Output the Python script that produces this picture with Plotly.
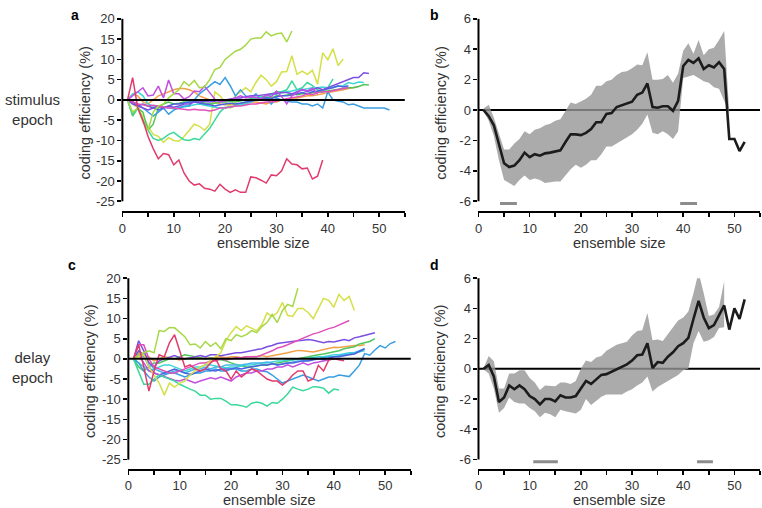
import plotly.graph_objects as go

W, H = 762, 508

# ---------------- tick labels ----------------
X_TICKS = [0, 5, 10, 15, 20, 25, 30, 35, 40, 45, 50, 55]
X_TICKTEXT = ["0", "", "10", "", "20", "", "30", "", "40", "", "50", ""]
Y_TICKS_AC = [-25, -20, -15, -10, -5, 0, 5, 10, 15, 20]
Y_TICKTEXT_AC = ["-25", "-20", "-15", "-10", "-5", "0", "5", "10", "15", "20"]
Y_TICKS_BD = [-6, -4, -2, 0, 2, 4, 6]
Y_TICKTEXT_BD = ["-6", "-4", "-2", "0", "2", "4", "6"]

# ---------------- panel a : stimulus epoch, individual sessions ----------------
a_crimson = [0, 5.5, -2, -5, -9, -12, -14.5, -13.2, -13.5, -16, -14.8, -18, -20, -21, -20.7,
             -21.8, -22, -22.5, -20.8, -22, -22.8, -22.2, -22.8, -22.8, -19, -19.2, -19.8,
             -20.5, -18.5, -18.7, -17.5, -14.5, -15.8, -16, -17, -16.8, -19.5, -18.8, -14.8]
a_orange = [0, 1.5, 1, -0.5, -1, 0, 1, 1.5, 2, 2.5, 2.8, 2.8, 2.5, 2, 1, 0.5, 0, -0.5, -1, -1.2,
            -1.2, -1, -1, -0.8, -0.5, -0.5, -0.8, -1, -0.5, -0.5, 0, 0.3, 0.5, 0.5, 0.8, 1, 1,
            1.2, 1.5, 1.8, 2, 2.3, 2.5, 2.8, 3.1, 3.3]
a_yellow = [0, -1, -2, -4, -6.5, -8.5, -9, -10.5, -9.3, -10, -10.2, -9, -7.5, -6, -6.5, -7.5, -6,
            2, 1, -0.5, -2, 1, 2, 3, 2, 4.3, 6.1, 5, 3.4, 4.5, 6.9, 7, 10.9, 6.3, 7.1, 6.3, 7.3,
            3.9, 11.6, 9.9, 12.6, 8.5, 10.1]
a_lime = [0, -3, -2, -5.5, -7.5, -3, -1.5, -1, 0.5, 1.5, 2.5, 4.5, 3.5, 4.8, 3, 3.2, 5, 7.5, 8,
          10, 11, 12, 12.5, 13.5, 15, 15.3, 15.3, 16.8, 15.8, 16.3, 16.5, 14.3, 17]
a_green = [0, -4, -2, -3, -7.5, -6, -2, -1, -0.5, -1, -0.8, -0.5, -0.5, -0.3, -0.5, -0.8, -1,
           -0.8, -0.5, -0.5, -0.3, -0.5, -0.2, 0, 0.3, 0.5, 0.5, 0.8, 0.5, 1, 1, 1.2, 1.5, 1.3,
           1.5, 1.5, 1.8, 2, 2, 2.2, 2.3, 2.5, 2.8, 3, 3, 3.3, 3.8, 3.7]
a_teal = [0, -3.5, -2, -5, -7.5, -9.5, -10, -9.5, -8.5, -8, -9, -9.8, -10, -9.5, -9.8, -8.5, -7,
          -5, -3, -1.8, -1.8, -1.5, -1, -0.5, 0, 0.5, 0.8, 1, 1.5, 2, 2, 2.5, 4.7, 2.5, 3, 4.3,
          3.5, 2.5, 2, 3, 5.2]
a_cyan = [0, 1.5, 2, 1, -1, -1.5, -1.5, -1.8, -2, -2.2, -2, -1.8, -1.5, -1.2, -1, -1.3, -1.5,
          -1.8, -2, -2, -1.8, -1.5, -1.2, -1, -0.5, 0, 0.5, 1, 1.2, 1.5, 1.8, 2, 2.2, 2.5, 2.5,
          2.8, 3, 3, 3.2, 3, 3.2, 3.3, 3.5, 4.3, 4, 4.4, 4.3]
a_blue = [0, -0.5, -1, -2, -3, -4, -3, -2, -3.5, -2.5, -2, -1.5, -1.5, 0, 1.5, 2.5, 3.5, 4.5,
          3.8, 5.5, 3.5, 1, 2.5, 1, 0.5, 1.5, 0, 0.5, -1, 0.5, 0, -0.3, -0.5, -0.5, -1, -1, -1.5,
          -1, -2, 2, 0, -0.3, -0.5, -1.2, -1, -1.5, -2, -2, -2, -2, -2, -2.5]
a_indigo = [0, -0.5, -1.5, -1, -1.5, -2, -2.5, -2, -1.5, -1, -1, -0.8, -0.5, -0.5, -0.8, -1,
            -1.2, -1.5, -1.2, -1, -0.8, -1, -0.8, -0.5, -0.3, 0, 0.2, 0.5, 0.3, 0.8, 1, 1, 1.2,
            1.5, 1.8, 1.5, 2, 2.2, 2.5, 2.8, 3, 3.5, 3.2, 3.5]
a_purple = [0, -1, -1.5, -2, -2.5, -2, -1.5, -2, -1.5, -1.8, -1.5, -1, -1, -0.5, -0.5, -0.3,
            -0.5, -0.3, 0, 0, 0.3, 0.5, 0.5, 0.8, 1, 1, 1.2, 1.3, 1.5, 1.5, 1.8, 1.8, 1.5, 2,
            2.5, 2, 2.5, 3, 2.5, 3, 3.5, 4, 4.5, 5.1, 5.5, 5.5, 6.7, 6.5]
a_magenta = [0, 1, 2.2, 3, 1, 1.2, 3.4, 0.5, 4.9, 1.5, 1.5, 0.2, 0.8, 2.2, 2, 3.4, 1.8, 0.2,
             -0.5, -0.2, 0, 0.5, 1, 0.5, 0.8, 0.6, 0.3, 1.2, 0.8, 2.2, 0.8, -1, 1, 1.8, 2.6,
             2.2, 2.9, 1.4]
a_pink = [0, -0.5, -1, -1.2, -1.5, -1.3, -1.5, -1.8, -2, -2, -2.2, -2.3, -2.5, -2.3, -2.5, -2.5,
          -2.7, -2.5, -2, -2, -1.8, -1.5, -1.5, -1.2, -1, -1, -0.8, -0.5, -0.5, -0.3, 0, 0.3,
          0.5, 0.8, 1, 1.5, 1.3, 1.8, 2, 2, 2.3, 2.5, 2.8, 3]

# ---------------- panel c : delay epoch, individual sessions ----------------
c_crimson = [0, 3.5, -2, -8, -3, 1, 0.5, 4, 6, 2, -2, -1.5, -2.5, -3, -2.5, -1, 0, -2.5, -3,
             -5, -3, -4.5, -3.5, -2.5, -3, -4, -5, -5.5, -5.5, -6.5, -5.5, -4, -3, -3, -5.5,
             -5, -1.6, -3, -0.3, 0, -0.2, -0.5]
c_orange = [0, 1.5, 1, 0.5, -0.5, 0, 0.5, 0.3, 0, -0.3, 0, 0.3, 0.5, 0.3, 0, 0.2, 0.3, 0.5,
            0.3, 0.5, 0.5, 0.3, 0.5, 0.5, 0.6, 0.8, 0.5, 0.8, 1, 1.2, 1.5, 1.8, 2.1, 2, 1.8,
            1.7, 2, 2.3, 2.5, 2.9, 2.8, 3, 3.2, 3.3, 3.3, 3.5]
c_yellow = [0, 0.5, 1, -2, -4, -6, -9, -6, -7, -6, -5.5, -4, -3, -2, -1.5, -0.5, 0.5, 1.5, 4.5,
            6.5, 8, 7, 8.2, 7.5, 7, 8.5, 11.4, 10.5, 11.5, 14, 10.8, 10.5, 12.5, 12.5, 11.5, 10,
            12.5, 15, 14.5, 12.8, 16, 14.5, 15.5, 12]
c_lime = [0, 1, 1.5, 2, 1.5, 7, 6.8, 7.8, 7.7, 6.5, 5.5, 3.5, 3.7, 2.7, 4.3, 3.1, 4, 2.5, 5,
          4.5, 6, 5.5, 6, 7, 6.5, 8, 9, 11, 9, 12, 13.5, 13, 17.5]
c_green = [0, -2, -3, -2, -1, -1, -0.5, 0, 0, 0.5, 1, 0.8, 0.5, 0.3, 0, 0.2, 0, -0.3, -0.5, -1,
           -1.5, -1.8, -2, -2, -1.8, -1.5, -1.5, -1.2, -1, -0.8, -0.5, -0.3, 0, 0.3, 0.5, 0.8,
           1, 1.2, 1.5, 1.8, 2, 2.5, 2.8, 3, 3.7, 4, 4.3, 5]
c_teal = [0, -3, -6.3, -6.3, -5, -4, -4.5, -5, -5.5, -6.3, -7, -7.5, -8, -9, -9, -10, -9.8,
          -9.8, -10.5, -11.4, -11.4, -11.6, -12, -11, -10.7, -11, -11.7, -10.8, -11, -10, -8.7,
          -7, -7.5, -7.9, -7.5, -6.9, -7, -7.3, -8.5, -7.5, -7.7]
c_cyan = [0, -1, -2, -3, -2.5, -2, -1.5, -1.5, -2, -2.5, -3, -2.5, -2, -2, -1.5, -1.5, -1.8, -2,
          -2.2, -2, -2, -1.8, -1.5, -1.5, -1.2, -1, -1, -0.8, -0.5, -0.5, -0.3, -0.3, 0, 0, 0.2,
          0.3, 0.5, 0.5, 0.8, 1, 1, 1.2, 1.5, 1.5, 1.8, 2]
c_lightblue = [0, 1, 0.5, -1, -2.5, -3, -3.5, -3.5, -3, -3, -3.5, -3, -2.5, -2.5, -2, -2.5, -2,
               -2, -1.5, -1.5, -1.5, -1.5, -1.3, -1, -1, -1, -0.8, -1, -1.5, -1.2, -1, -0.8,
               -0.5, -0.5, -0.3, 0, 0.2, 0.3, 0.5, 0.5, 0.8, 1, 1.2, 1.5, 2, 2.5]
c_blue = [0, -1, -3, -4.5, -5.5, -4.5, -4, -3.5, -3.5, -4, -4.5, -4, -3.5, -3.5, -3, -3, -2.5,
          -3, -3, -2.5, -2.5, -3, -3, -2.5, -2.5, -3, -3.2, -4, -5, -6, -5.5, -5, -4.5, -4,
          -4.5, -5, -5.5, -5, -4.5, -4.5, -4, -4.2, -4.4, -3, -1.5, 1.3, 0.9, 2.2, 3.3, 2.7,
          3.8, 4.3]
c_indigo = [0, 2, 1, -2, -3.5, -4, -3.5, -3, -2.5, -3, -3.5, -3.8, -3.5, -3, -2.5, -2.8, -3,
            -2.5, -2.5, -2.5, -2.2, -2.5, -2.2, -2, -1.8, -1.5, -1.5, -1.2, -1.5, -1.2, -1, -1,
            -0.8, -0.5, -0.5, -0.3, 0, -0.2, 0.2, 0.5, 0.5, 0.8, 1, 1.2, 1.8, 2.5]
c_purple = [0, 4.5, 2, -1, -2, -0.5, 0, 0.5, 0.8, 0.3, 0, 0.2, 0.5, 0.8, 0.5, 1, 1, 0.8, 1,
            1.2, 1.5, 1.5, 1.8, 2, 2.3, 2.5, 3, 3.3, 3.8, 4, 4.2, 4.4, 4.5, 4.6, 4.8, 4.6, 4.3,
            4, 4.3, 4.2, 4.5, 4.8, 4.5, 5.2, 5.5, 5.8, 6.2, 6.5]
c_magenta = [0, 1, -1, -3, -3.5, -4, -4.5, -5, -5.3, -5.5, -5, -5.5, -6, -5.5, -5, -4.7, -5,
             -4.5, -5, -5.5, -4.5, -4, -3.5, -3.5, -3, -3, -2.5, -2.5, -2, -2, -1.5, -2, -1.5,
             -1, -1.5, -1, -0.8, -0.5, -0.3, 0]
c_pink = [0, 3.5, 3.5, 0, -2, -2.5, -3, -3.5, -3.5, -3, -2.5, -2, -1.5, -1, -1, -0.5, -0.5, 0,
          -0.3, 0, 0.3, 0.3, 0.5, 0.5, 0.5, 1, 1.5, 2, 2.7, 3, 3.5, 4, 4.5, 5, 5.5, 6.2, 6.5,
          7, 7.5, 7.8, 8.3, 9, 9.5]

# ---------------- panel b : stimulus epoch, mean and band ----------------
b_mean = [0, -0.4, -1.0, -2.2, -3.5, -3.75, -3.65, -3.3, -2.8, -3.1, -2.9, -3.0, -2.85, -2.8,
          -2.7, -2.65, -2.1, -1.6, -1.6, -1.65, -1.5, -1.25, -0.8, -0.8, -0.25, -0.2, 0.2, 0.3,
          0.4, 0.55, 1.0, 1.15, 1.75, 0.2, 0.15, 0.25, 0.25, -0.05, 0.6, 2.9, 3.3, 3.1, 3.4,
          2.7, 2.95, 2.8, 3.15, 2.7, -1.9, -1.9, -2.7, -2.1]
b_upper = [0.1, 0.35, -0.5, -1.5, -2.6, -2.6, -2.2, -1.9, -1.4, -1.6, -1.3, -1.2, -1.0, -0.9,
           -0.7, -0.6, 0.0, 0.5, 0.4, 0.55, 0.75, 1.0, 1.6, 1.6, 1.9, 2.0, 2.3, 2.5, 2.55,
           2.75, 3.0, 2.95, 3.8, 2.0, 2.0, 2.05, 2.3, 1.8, 2.4, 3.9, 4.4, 3.7, 4.6, 3.6, 4.0,
           4.1, 4.6, 5.2, -0.2]
b_lower = [-0.1, -0.7, -1.7, -3.3, -4.6, -4.8, -5.0, -4.6, -4.3, -4.6, -4.5, -4.6, -4.8, -4.75,
           -4.7, -4.7, -4.3, -3.9, -3.6, -3.8, -3.6, -3.3, -3.3, -2.9, -2.4, -2.4, -2.2, -2.0,
           -1.8, -1.6, -1.3, -0.9, -0.3, -1.5, -1.6, -1.4, -1.6, -1.9, -1.4, 2.1, 2.2, 2.3,
           2.1, 1.9, 1.8, 1.5, 1.4, 0.6, -0.2]
b_sig = [[4.2, 7.5], [39.4, 42.7]]

# ---------------- panel d : delay epoch, mean and band ----------------
d_mean = [0, 0.25, -0.5, -2.2, -1.9, -1.1, -1.35, -1.1, -1.35, -1.8, -2.0, -2.35, -2.0, -2.0,
          -2.15, -1.75, -1.9, -1.9, -1.8, -1.3, -0.8, -1.0, -0.7, -0.4, -0.35, -0.2, 0.0, 0.15,
          0.3, 0.55, 0.9, 0.95, 1.7, 0.05, 0.45, 0.4, 0.8, 1.1, 1.5, 1.7, 2.05, 3.3, 4.5, 3.4,
          2.7, 2.9, 3.5, 4.2, 2.6, 4.0, 3.3, 4.6]
d_upper = [0.05, 0.85, 0.5, -1.3, -1.3, -0.3, -0.3, -0.1, -0.1, -0.6, -0.9, -1.4, -1.1, -1.15,
           -1.15, -0.9, -0.9, -1.0, -0.8, 0.0, 0.55, 0.45, 0.75, 0.85, 1.2, 1.4, 1.6, 1.7, 1.8,
           2.2, 2.5, 2.55, 3.7, 1.9, 1.95, 1.85, 2.3, 2.8, 3.2, 3.4, 3.8, 5.0, 6.4, 5.0, 3.5,
           3.6, 4.1, 5.8]
d_lower = [-0.05, -0.3, -1.3, -2.9, -2.6, -1.9, -2.2, -2.3, -2.3, -2.6, -2.8, -3.2, -2.9, -3.0,
           -3.2, -2.7, -2.8, -2.9, -2.95, -2.7, -2.0, -2.4, -2.1, -1.85, -1.7, -1.7, -1.75, -1.7,
           -1.5, -1.35, -1.1, -0.9, -0.5, -1.5, -1.2, -1.0, -0.8, -0.6, -0.4, -0.1, 0.0, 1.7,
           2.5, 1.8, 1.9, 2.1, 2.7, 2.75]
d_sig = [[10.7, 15.5], [42.7, 45.8]]
SIG_Y = -6.15

# ---------------- styling ----------------
LINE_COLORS = {
    "crimson": "#e23a6c", "orange": "#f0a048", "yellow": "#d4e045", "lime": "#a6d846",
    "green": "#52c65a", "teal": "#3ad89a", "cyan": "#3fd6d6", "lightblue": "#44b6ea",
    "blue": "#3a9ee2", "indigo": "#4a62e0", "purple": "#7b4fe2", "magenta": "#c24fe0",
    "pink": "#e050b8",
}
series_a = [("orange", a_orange), ("yellow", a_yellow), ("green", a_green), ("teal", a_teal),
            ("cyan", a_cyan), ("blue", a_blue), ("indigo", a_indigo), ("purple", a_purple),
            ("magenta", a_magenta), ("pink", a_pink), ("lime", a_lime), ("crimson", a_crimson)]
series_c = [("orange", c_orange), ("green", c_green), ("cyan", c_cyan),
            ("lightblue", c_lightblue), ("blue", c_blue), ("indigo", c_indigo),
            ("purple", c_purple), ("magenta", c_magenta), ("pink", c_pink),
            ("teal", c_teal), ("yellow", c_yellow), ("lime", c_lime), ("crimson", c_crimson)]

FONT = "Liberation Sans, Arial, sans-serif"
TXT = "#333333"

# pixel boxes of each panel's plotting area: left, right, top, bottom
BOX = {
    "a": (119, 403, 12, 207), "b": (477, 760, 12, 207),
    "c": (125, 409, 275, 468), "d": (477, 760, 275, 468),
}
YR = {"a": [-27.43, 20], "b": [-6.65, 6], "c": [-27.2, 20], "d": [-6.6, 6]}
XR = [0, 55]
SPINE = {"a": (-25, 20), "b": (-6, 6), "c": (-25, 20), "d": (-6, 6)}
AX = {"a": ("x", "y", ""), "b": ("x2", "y2", "2"), "c": ("x3", "y3", "3"), "d": ("x4", "y4", "4")}


def px(xp):
    return xp / W


def py(yp):
    return 1 - yp / H


fig = go.Figure()


def add_sessions(series, panel):
    xa, ya, _ = AX[panel]
    for cname, vals in series:
        fig.add_trace(go.Scatter(
            x=list(range(1, len(vals) + 1)), y=vals, mode="lines",
            line=dict(color=LINE_COLORS[cname], width=1.5),
            xaxis=xa, yaxis=ya, showlegend=False, hoverinfo="skip"))


def add_mean(mean, upper, lower, sig, panel):
    xa, ya, _ = AX[panel]
    xs_band = list(range(1, len(upper) + 1))
    fig.add_trace(go.Scatter(x=xs_band, y=upper, mode="lines", line=dict(width=0),
                             xaxis=xa, yaxis=ya, showlegend=False, hoverinfo="skip"))
    fig.add_trace(go.Scatter(x=xs_band, y=lower, mode="lines", line=dict(width=0),
                             fill="tonexty", fillcolor="rgba(150,150,150,0.8)",
                             xaxis=xa, yaxis=ya, showlegend=False, hoverinfo="skip"))
    for seg in sig:
        fig.add_trace(go.Scatter(x=seg, y=[SIG_Y, SIG_Y], mode="lines",
                                 line=dict(color="#8c8c8c", width=3),
                                 xaxis=xa, yaxis=ya, showlegend=False, hoverinfo="skip"))
    fig.add_trace(go.Scatter(x=list(range(1, len(mean) + 1)), y=mean, mode="lines",
                             line=dict(color="#1c1c1c", width=2.6),
                             xaxis=xa, yaxis=ya, showlegend=False, hoverinfo="skip"))


add_sessions(series_a, "a")
add_sessions(series_c, "c")
add_mean(b_mean, b_upper, b_lower, b_sig, "b")
add_mean(d_mean, d_upper, d_lower, d_sig, "d")

layout = dict(width=W, height=H, margin=dict(l=0, r=0, t=0, b=0),
              paper_bgcolor="white", plot_bgcolor="white", showlegend=False,
              font=dict(family=FONT, color=TXT, size=13))
shapes = []
annotations = []
for p in "abcd":
    l, r, t, b = BOX[p]
    xa, ya, suf = AX[p]
    yt, ytt = (Y_TICKS_AC, Y_TICKTEXT_AC) if p in "ac" else (Y_TICKS_BD, Y_TICKTEXT_BD)
    layout["xaxis" + suf] = dict(
        domain=[px(l), px(r)], range=XR, anchor=ya, tickmode="array",
        tickvals=X_TICKS, ticktext=X_TICKTEXT, ticks="outside", ticklen=4, tickwidth=1.6,
        tickcolor="black", showline=True, linecolor="black", linewidth=2,
        showgrid=False, zeroline=False, tickfont=dict(size=13, color=TXT, family=FONT))
    layout["yaxis" + suf] = dict(
        domain=[py(b), py(t)], range=YR[p], anchor=xa, tickmode="array",
        tickvals=yt, ticktext=ytt, ticks="outside", ticklen=4, tickwidth=1.6,
        tickcolor="black", showline=False, showgrid=False, zeroline=False,
        tickfont=dict(size=13, color=TXT, family=FONT))
    y0, y1 = SPINE[p]
    lo, hi = YR[p]
    shapes.append(dict(type="line", xref=xa + " domain", yref=ya + " domain",
                       x0=0, x1=0, y0=(y0 - lo) / (hi - lo), y1=(y1 - lo) / (hi - lo),
                       line=dict(color="black", width=2)))
    shapes.append(dict(type="line", xref=xa, yref=ya, x0=XR[0], x1=XR[1], y0=0, y1=0,
                       layer="above" if p in "ac" else "below",
                       line=dict(color="black", width=2)))
    # axis titles
    annotations.append(dict(text="coding efficiency (%)", xref="paper", yref="paper",
                            x=px(l - 38), y=py((t + b) / 2 - 2), textangle=-90,
                            showarrow=False, xanchor="center", yanchor="middle",
                            font=dict(size=14.5, color=TXT, family=FONT)))
    annotations.append(dict(text="ensemble size", xref="paper", yref="paper",
                            x=px((l + r) / 2), y=py(b + 32), showarrow=False,
                            xanchor="center", yanchor="middle",
                            font=dict(size=14.5, color=TXT, family=FONT)))

PANEL_LABELS = {"a": (71, 8), "b": (433, 8), "c": (68, 262), "d": (433, 262)}
for lab, (xx, yy) in PANEL_LABELS.items():
    annotations.append(dict(text="<b>%s</b>" % lab, xref="paper", yref="paper",
                            x=px(xx), y=py(yy), showarrow=False, xanchor="center",
                            yanchor="middle", font=dict(size=14, color="black", family=FONT)))

ROW_LABELS = [("stimulus<br>epoch", 104), ("delay<br>epoch", 366)]
for txt, yy in ROW_LABELS:
    annotations.append(dict(text=txt, xref="paper", yref="paper", x=px(29), y=py(yy),
                            showarrow=False, xanchor="center", yanchor="middle",
                            font=dict(size=15, color=TXT, family=FONT)))

layout["shapes"] = shapes
layout["annotations"] = annotations
fig.update_layout(**layout)

fig.write_html("out.html",
               config={"displayModeBar": False, "staticPlot": True},
               post_script="document.body.style.margin='0px';"
                           "document.body.style.overflow='hidden';")
